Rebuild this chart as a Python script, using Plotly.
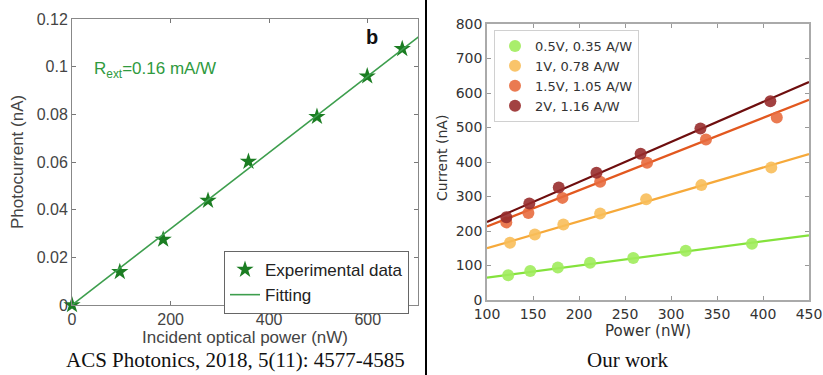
import plotly.graph_objects as go

W, H = 823, 375

# ---------------- Left panel data (ACS Photonics) ----------------
left_power_nw = [0, 97, 185, 276, 358, 497, 599, 670]
left_photocurrent_na = [0.0, 0.0139, 0.0275, 0.0438, 0.0602, 0.0790, 0.0960, 0.1075]
left_fit_slope_ma_per_w = 0.16          # R_ext
left_fit_x = [0, 720]
left_xticks = [0, 200, 400, 600]
left_yticks = [0, 0.02, 0.04, 0.06, 0.08, 0.1, 0.12]
left_yticktext = ["0", "0.02", "0.04", "0.06", "0.08", "0.1", "0.12"]

# ---------------- Right panel data (Our work) ----------------
series_names = ["0.5V, 0.35 A/W", "1V, 0.78 A/W", "1.5V, 1.05 A/W", "2V, 1.16 A/W"]
series_x = [
    [123, 147, 177, 212, 259, 316, 388],
    [125, 152, 183, 223, 273, 333, 409],
    [121, 145, 182, 223, 274, 338, 415],
    [121, 146, 178, 219, 267, 332, 408],
]
series_y = [
    [72, 84, 94, 108, 122, 143, 163],
    [166, 190, 219, 251, 292, 333, 384],
    [225, 252, 296, 343, 398, 465, 529],
    [240, 280, 326, 369, 424, 497, 576],
]
fit_slopes = [0.35, 0.78, 1.05, 1.16]
fit_intercepts = [30, 72, 108, 110]
fit_x = [100, 450]
right_xticks = [100, 150, 200, 250, 300, 350, 400, 450]
right_yticks = [0, 100, 200, 300, 400, 500, 600, 700, 800]

marker_colors = ["rgba(160,236,92,0.9)", "rgba(248,190,90,0.9)",
                 "rgba(232,108,62,0.9)", "rgba(152,44,44,0.9)"]
line_colors = ["#84e23c", "#f6a93a", "#e2581f", "#6e0e0e"]

fig = go.Figure()

# Left panel traces
fig.add_trace(go.Scatter(
    x=left_power_nw, y=left_photocurrent_na, mode="markers",
    marker=dict(symbol="star", size=13, color="#1b7d22"),
    name="Experimental data", xaxis="x", yaxis="y", legend="legend2",
    cliponaxis=False))
fig.add_trace(go.Scatter(
    x=left_fit_x, y=[v * left_fit_slope_ma_per_w * 1e-3 for v in left_fit_x],
    mode="lines", line=dict(color="#3d9e4d", width=1.6),
    name="Fitting", xaxis="x", yaxis="y", legend="legend2"))

# Right panel traces
for i in range(4):
    fig.add_trace(go.Scatter(
        x=fit_x, y=[fit_slopes[i] * v + fit_intercepts[i] for v in fit_x],
        mode="lines", line=dict(color=line_colors[i], width=2.2),
        showlegend=False, xaxis="x2", yaxis="y2", hoverinfo="skip"))
for i in range(4):
    fig.add_trace(go.Scatter(
        x=series_x[i], y=series_y[i], mode="markers",
        marker=dict(size=12, color=marker_colors[i]),
        name=series_names[i], xaxis="x2", yaxis="y2", legend="legend"))

lf = "Liberation Sans"
rf = "DejaVu Sans"

common_left = dict(ticks="inside", ticklen=4, tickcolor="#777", showline=True,
                   linecolor="#888", linewidth=1, mirror="ticks", showgrid=False,
                   zeroline=False, automargin=False,
                   tickfont=dict(family=lf, size=16, color="#444"))
common_right = dict(ticks="inside", ticklen=4, tickcolor="#999", showline=True,
                    linecolor="#aaa", linewidth=1.5, mirror="ticks", showgrid=False,
                    zeroline=False, automargin=False,
                    tickfont=dict(family=rf, size=14, color="#333"))

fig.update_layout(
    width=W, height=H, margin=dict(l=0, r=0, t=0, b=0, autoexpand=False),
    paper_bgcolor="white", plot_bgcolor="white",
    xaxis=dict(domain=[72 / W, 418 / W], range=[0, 702], tickvals=left_xticks,
               anchor="y", **common_left),
    yaxis=dict(domain=[1 - 305 / H, 1 - 19 / H], range=[0, 0.12],
               tickvals=left_yticks, ticktext=left_yticktext,
               anchor="x", **common_left),
    xaxis2=dict(domain=[487 / W, 809 / W], range=[100, 450], tickvals=right_xticks,
                anchor="y2", **common_right),
    yaxis2=dict(domain=[1 - 300 / H, 1 - 24 / H], range=[0, 800],
                tickvals=right_yticks, anchor="x2", **common_right),
    legend=dict(x=494 / W, y=1 - 30 / H, xanchor="left", yanchor="top",
                bgcolor="white", bordercolor="#d0d0d0", borderwidth=1,
                font=dict(family=rf, size=13, color="#333"),
                tracegroupgap=0, itemwidth=30),
    legend2=dict(x=224 / W, y=1 - 251 / H, xanchor="left", yanchor="top",
                 bgcolor="white", bordercolor="#666", borderwidth=1,
                 font=dict(family=lf, size=17, color="#222"),
                 tracegroupgap=0, itemwidth=30),
    shapes=[dict(type="line", xref="paper", yref="paper",
                 x0=426 / W, x1=426 / W, y0=0, y1=1,
                 line=dict(color="black", width=2))],
    annotations=[
        dict(text="R<sub>ext</sub>=0.16 mA/W", x=92 / W, y=1 - 70 / H,
             xref="paper", yref="paper", xanchor="left", yanchor="middle",
             showarrow=False, font=dict(family=lf, size=17, color="#2f9a3e")),
        dict(text="<b>b</b>", x=372 / W, y=1 - 37 / H, xref="paper", yref="paper",
             xanchor="center", yanchor="middle", showarrow=False,
             font=dict(family=lf, size=20, color="#111")),
        dict(text="Photocurrent (nA)", x=18 / W, y=1 - 162 / H, xref="paper",
             yref="paper", xanchor="center", yanchor="middle", textangle=-90,
             showarrow=False, font=dict(family=lf, size=17, color="#444")),
        dict(text="Incident optical power (nW)", x=245 / W, y=1 - 337 / H,
             xref="paper", yref="paper", xanchor="center", yanchor="middle",
             showarrow=False, font=dict(family=lf, size=17, color="#444")),
        dict(text="ACS Photonics, 2018, 5(11): 4577-4585", x=235 / W, y=1 - 360 / H,
             xref="paper", yref="paper", xanchor="center", yanchor="middle",
             showarrow=False, font=dict(family="Liberation Serif", size=21, color="#111")),
        dict(text="Current (nA)", x=442 / W, y=1 - 158 / H, xref="paper",
             yref="paper", xanchor="center", yanchor="middle", textangle=-90,
             showarrow=False, font=dict(family=rf, size=14, color="#333")),
        dict(text="Power (nW)", x=648 / W, y=1 - 331 / H, xref="paper",
             yref="paper", xanchor="center", yanchor="middle",
             showarrow=False, font=dict(family=rf, size=15, color="#333")),
        dict(text="Our work", x=628 / W, y=1 - 360 / H, xref="paper",
             yref="paper", xanchor="center", yanchor="middle",
             showarrow=False, font=dict(family="Liberation Serif", size=21, color="#111")),
    ],
)

fig.write_html("out.html")
